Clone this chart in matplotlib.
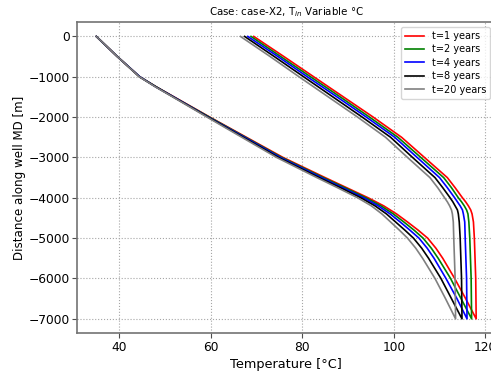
import matplotlib as mpl
mpl.use('Agg')
import matplotlib.pyplot as plt

# depth points of the down-going (annulus) leg, m
depth_down = [0, -500, -1000, -1250, -1500, -2000, -2500, -3000, -3500, -3750,
              -4000, -4200, -4400, -4600, -4800, -5000, -5250, -5500,
              -6000, -6500, -7000]
# depth points of the up-going (centre pipe) leg, m
depth_up = [0, -500, -1000, -1500, -2000, -2500, -3000, -3500, -3750,
            -4000, -4100, -4200, -4300, -4400, -4600, -5000, -6000, -7000]

years = [1, 2, 4, 8, 20]
colors = ['r', 'g', 'b', 'k', 'grey']

# fluid temperature going down, degC
temp_down = {
    1: [35.0, 39.6, 44.5, 48.1, 52.0, 59.8, 67.8, 75.8, 85.0, 89.7,
        94.4, 97.8, 100.6, 103.0, 105.3, 107.4, 109.2, 110.7,
        113.3, 115.7, 118.0],
    2: [35.0, 39.6, 44.5, 48.1, 51.9, 59.7, 67.6, 75.5, 84.6, 89.3,
        93.9, 97.2, 99.9, 102.2, 104.4, 106.4, 108.2, 109.7,
        112.4, 114.7, 117.0],
    4: [35.0, 39.6, 44.5, 48.0, 51.9, 59.5, 67.4, 75.2, 84.2, 88.8,
        93.4, 96.6, 99.2, 101.4, 103.5, 105.5, 107.3, 108.8,
        111.4, 113.8, 116.0],
    8: [35.0, 39.6, 44.4, 48.0, 51.8, 59.4, 67.1, 74.8, 83.7, 88.3,
        92.8, 95.9, 98.4, 100.4, 102.4, 104.3, 106.1, 107.6,
        110.3, 112.6, 114.9],
    20: [35.0, 39.6, 44.4, 47.9, 51.7, 59.2, 66.8, 74.4, 83.2, 87.7,
         92.1, 95.1, 97.4, 99.3, 101.2, 103.0, 104.8, 106.3,
         109.0, 111.3, 113.5],
}

# fluid temperature coming back up, degC
temp_up = {
    1: [69.4, 76.0, 82.5, 89.0, 95.5, 101.7, 106.7, 111.7, 113.4,
        115.0, 115.7, 116.3, 116.8, 117.1, 117.4, 117.6, 117.9, 118.0],
    2: [68.8, 75.3, 81.8, 88.3, 94.7, 100.9, 105.9, 110.9, 112.6,
        114.1, 114.8, 115.4, 115.9, 116.2, 116.4, 116.6, 116.9, 117.0],
    4: [68.1, 74.7, 81.1, 87.6, 94.0, 100.2, 105.1, 110.0, 111.7,
        113.3, 113.9, 114.5, 115.0, 115.2, 115.5, 115.6, 115.9, 116.0],
    8: [67.4, 73.9, 80.3, 86.7, 93.1, 99.3, 104.1, 109.0, 110.7,
        112.3, 112.9, 113.4, 113.9, 114.1, 114.3, 114.5, 114.8, 114.9],
    20: [66.5, 73.0, 79.3, 85.7, 92.1, 98.2, 103.0, 107.9, 109.6,
         111.1, 111.7, 112.2, 112.6, 112.8, 113.0, 113.1, 113.4, 113.5],
}


def plot_profiles(fname):
    fig = plt.figure(figsize=(4.91, 3.72), dpi=100)
    ax = fig.add_axes([0.1575, 0.105, 0.851, 0.835])

    for yr, c in zip(years, colors):
        # one line per time: down the annulus, then back up the centre pipe
        temps = temp_down[yr] + temp_up[yr][::-1]
        depths = depth_down + depth_up[::-1]
        ax.plot(temps, depths, color=c, lw=1.2, label='t={} years'.format(yr))

    ax.set_xticks([40, 60, 80, 100, 120])
    ax.set_yticks(range(0, -7001, -1000))
    ax.grid(True, ls=':', color='0.65', lw=0.8)
    ax.tick_params(labelsize=8.8, color='0.3', pad=2)
    for s in ax.spines.values():
        s.set_color('0.45')
        s.set_linewidth(1.2)

    ax.set_xlabel('Temperature [°C]', fontsize=9.3, labelpad=3)
    ax.set_ylabel('Distance along well MD [m]', fontsize=8.6, labelpad=2)
    ax.set_title('Case: case-X2, T$_{in}$ Variable °C', fontsize=7.4, pad=5)
    ax.legend(loc='upper right', fontsize=7, labelspacing=0.35)

    fig.savefig(fname, dpi=100)
    plt.close(fig)


if __name__ == '__main__':
    plot_profiles('out.png')
